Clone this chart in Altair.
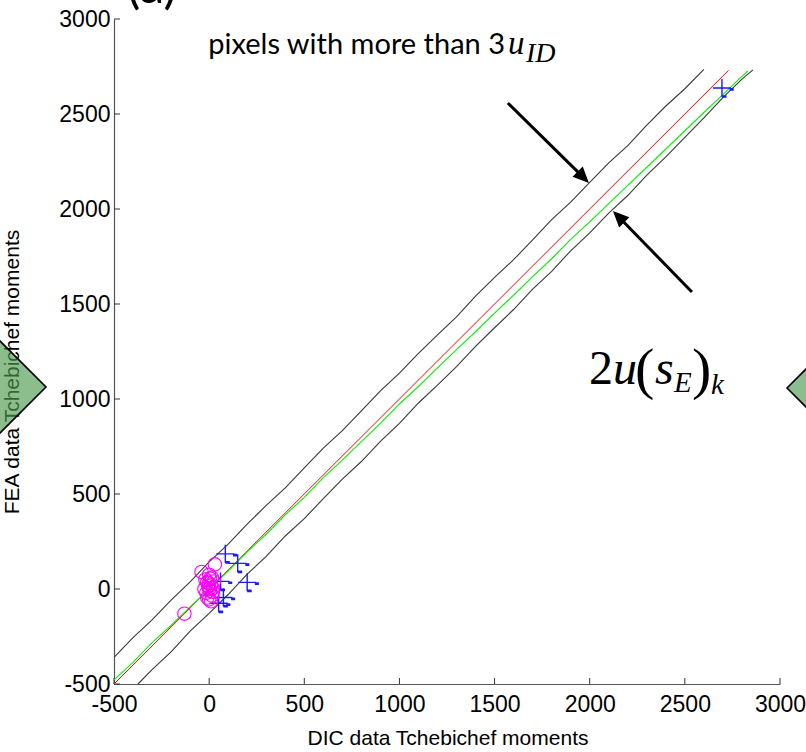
import altair as alt
import pandas as pd

# ---------------- data ----------------
tick_values = [-500, 0, 500, 1000, 1500, 2000, 2500, 3000]

red_x = [-500, 2730]
red_y = [-500, 2730]

upper_x = [-500, -400, -300, -200, -100, 0, 100, 200, 300, 400, 500, 600, 700, 800, 900, 1000,
           1100, 1200, 1300, 1400, 1500, 1600, 1700, 1800, 1900, 2000, 2100, 2200, 2300, 2400, 2500, 2600]
upper_y = [-360, -256, -163, -58, 38, 143, 236, 342, 440, 532, 638, 741, 833, 938, 1043, 1136,
           1240, 1338, 1432, 1541, 1640, 1733, 1838, 1944, 2036, 2140, 2243, 2334, 2441, 2542, 2633, 2735]

lower_x = [-374, -300, -200, -100, 0, 100, 200, 300, 400, 500, 600, 700, 800, 900, 1000, 1100, 1200,
           1300, 1400, 1500, 1600, 1700, 1800, 1900, 2000, 2100, 2200, 2300, 2400, 2500, 2600, 2700, 2800, 2858]
lower_y = [-500, -424, -331, -222, -128, -29, 78, 172, 279, 370, 476, 578, 671, 777, 872, 979, 1073,
           1170, 1277, 1375, 1471, 1578, 1672, 1780, 1874, 1978, 2071, 2178, 2274, 2377, 2480, 2586, 2684, 2732]

green_x = [-500, -400, -300, -200, -100, 0, 100, 200, 300, 400, 500, 600, 700, 800, 900, 1000, 1100,
           1200, 1300, 1400, 1500, 1600, 1700, 1800, 1900, 2000, 2100, 2200, 2300, 2400, 2500, 2600, 2700, 2800, 2832]
green_y = [-478, -386, -282, -192, -94, 0, 94, 196, 288, 390, 482, 586, 678, 776, 872, 974, 1066,
           1164, 1260, 1354, 1452, 1546, 1644, 1738, 1840, 1932, 2028, 2124, 2220, 2316, 2412, 2508, 2602, 2698, 2726]

circle_x = [-130, 30, -40, 0, 10, -10, 5, -15, 15, 0, -5, 20, -20, 10, 0, 25, -25, 5, 15, -10, 0, 20]
circle_y = [-130, 130, 90, 0, 20, 35, 55, -20, -35, -55, 15, 5, 50, -65, 75, 40, 0, -10, 60, -45, 30, -15]

cross_x = [2695, 85, 150, 200, 60, 50, 75]
cross_y = [2637, 185, 135, 35, 40, -75, -45]

arrow_x0 = [1570, 2537]
arrow_y0 = [2558, 1563]
arrow_xs = [1956, 2162]   # shaft end
arrow_ys = [2177, 1949]
arrow_xt = [1996, 2122]   # tip
arrow_yt = [2137, 1989]
arrow_angle = [135, 315]

# ---------------- layout ----------------
W, H = 666, 665
PL, PT = 114, 19

sc = alt.Scale(domain=[-500, 3000], nice=False, zero=False)
FONT = "Liberation Sans"

ax_common = dict(values=tick_values, ticks=False, grid=False, title=None,
                 labelFont=FONT, labelFontSize=23, labelColor="black",
                 labelFlush=False, labelOverlap=False,
                 domainColor="#555555", domainWidth=1.2,
                 labelExpr="'' + datum.value")
XAX = alt.Axis(labelPadding=9, **ax_common)
YAX = alt.Axis(labelPadding=4, **ax_common)


def X(field):
    return alt.X(field, type="quantitative", scale=sc, axis=XAX)


def Y(field):
    return alt.Y(field, type="quantitative", scale=sc, axis=YAX)


ticks_df = pd.DataFrame({"v": tick_values})
xticks = alt.Chart(ticks_df).mark_rule(color="#333333", strokeWidth=1).encode(
    x=X("v"), y=alt.value(H), y2=alt.value(H - 6))
yticks = alt.Chart(ticks_df).mark_rule(color="#333333", strokeWidth=1).encode(
    y=Y("v"), x=alt.value(0), x2=alt.value(6))


def line(xs, ys, color, w=1.0):
    df = pd.DataFrame({"x": xs, "y": ys, "o": list(range(len(xs)))})
    return alt.Chart(df).mark_line(color=color, strokeWidth=w).encode(
        x=X("x"), y=Y("y"), order="o:Q")


upper = line(upper_x, upper_y, "#3a3a3a", 1.1)
lower = line(lower_x, lower_y, "#3a3a3a", 1.1)
green = line(green_x, green_y, "#11ee11", 1.2)
red = line(red_x, red_y, "#ff0000", 1.0)

cross_df = pd.DataFrame({"x": cross_x, "y": cross_y})
crosses = alt.Chart(cross_df).mark_point(
    shape="M-1,0L1,0M0,-1L0,1", size=324, color="#1a1aff", strokeWidth=1.4, filled=False, opacity=1
).encode(x=X("x"), y=Y("y"))
cross_dash = alt.Chart(cross_df).mark_point(
    shape="M0.85,0L1.3,0L1.3,0.3L0.85,0.3Z M0,0.8L0.5,0.8L0.5,1.1L0,1.1Z", size=324,
    color="#1a1aff", filled=True, strokeWidth=0, opacity=1
).encode(x=X("x"), y=Y("y"))

circ_df = pd.DataFrame({"x": circle_x, "y": circle_y})
circles = alt.Chart(circ_df).mark_point(
    shape="circle", size=180, color="#ff00ff", strokeWidth=1.1, filled=False, opacity=1
).encode(x=X("x"), y=Y("y"))

arr_df = pd.DataFrame({"x0": arrow_x0, "y0": arrow_y0, "xs": arrow_xs, "ys": arrow_ys,
                       "xt": arrow_xt, "yt": arrow_yt, "a": arrow_angle})
shafts = alt.Chart(arr_df).mark_rule(color="black", strokeWidth=3).encode(
    x=X("x0"), y=Y("y0"), x2="xs", y2="ys")
heads = alt.Chart(arr_df).mark_point(
    shape="M0,0L-0.45,1L0.45,1Z", size=1024, color="black", filled=True, opacity=1, strokeWidth=0
).encode(x=X("xt"), y=Y("yt"), angle=alt.Angle("a:Q", scale=None))

one = pd.DataFrame({"a": [0]})


def txt(s, sx, sy, size, font, style="normal", angle=0, align="left", baseline="alphabetic", color="black"):
    kw = dict(text=s, fontSize=size, font=font, fontStyle=style, align=align, baseline=baseline, color=color)
    if angle:
        kw["angle"] = angle
    return alt.Chart(one).mark_text(**kw).encode(x=alt.value(sx - PL), y=alt.value(sy - PT))


texts = [
    txt("(a)", 127, 3, 50, "Lato"),
    txt("pixels with more than 3", 505, 54, 29, "Lato", align="right"),
    txt("u", 508, 54, 33, "Liberation Serif", "italic"),
    txt("ID", 526, 62, 28, "Liberation Serif", "italic"),
    txt("DIC data Tchebichef moments", 448, 745, 21, FONT, align="center"),
    txt("FEA data Tchebichef moments", 19, 372, 21, FONT, angle=270, align="center"),
    txt("2", 589, 384, 48, "Liberation Serif"),
    txt("u", 613, 384, 48, "Liberation Serif", "italic"),
    txt("(", 635, 388, 58, "Liberation Serif"),
    txt("s", 655, 384, 48, "Liberation Serif", "italic"),
    txt("E", 674, 392, 29, "Liberation Serif", "italic"),
    txt(")", 692, 388, 58, "Liberation Serif"),
    txt("k", 711, 394, 29, "Liberation Serif", "italic"),
]

diam_df = pd.DataFrame({"sx": [-20 - PL, 853 - PL], "sy": [387 - PT, 388 - PT]})
diamonds = alt.Chart(diam_df).mark_point(
    shape="diamond", size=132 * 132, fill="#4f9a4f", fillOpacity=0.65, filled=True,
    stroke="black", strokeWidth=1.6, opacity=1
).encode(x=alt.X("sx:Q", scale=None, axis=None), y=alt.Y("sy:Q", scale=None, axis=None))

chart = alt.layer(
    xticks, yticks, upper, lower, red, green, crosses, cross_dash, circles,
    shafts, heads, *texts, diamonds
).properties(
    width=W, height=H,
    autosize=alt.AutoSizeParams(type="none"),
    padding={"left": PL, "top": PT, "right": 806 - PL - W, "bottom": 752 - PT - H},
    background="white",
).configure_view(strokeWidth=0)

chart.save("out.html", embed_options={"renderer": "svg", "actions": False})
